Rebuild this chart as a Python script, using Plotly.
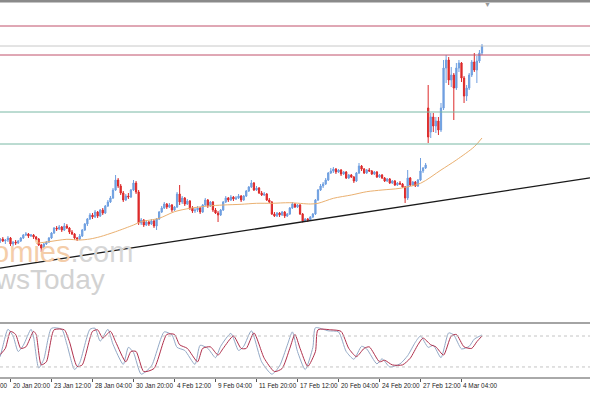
import plotly.graph_objects as go

# ---------------- data (price units) ----------------
open_ = [77,79,77,78,80,74,76,75,77,80,83,84,82,83,81,79,73,70,74,76,
         80,85,90,89,91,88,92,90,86,84,80,79,82,88,94,99,103,101,106,102,
         108,105,112,116,120,128,138,132,125,118,122,121,128,135,126,95,98,93,96,94,
         97,92,99,106,110,114,111,113,108,111,124,116,120,114,117,110,107,108,110,106,
         113,118,112,116,108,105,103,108,116,120,118,121,119,120,122,118,122,127,131,135,
         128,130,125,123,124,118,116,104,102,105,103,106,102,104,110,114,111,113,104,97,
         99,98,101,104,118,128,132,134,138,145,147,149,146,148,144,146,140,143,141,137,
         145,152,149,145,148,147,144,146,141,143,140,137,139,135,137,133,135,134,131,120,
         140,133,136,132,138,147,150,210,186,201,192,197,188,210,250,258,238,243,230,250,
         255,240,222,230,243,256,248,257,265]
high = [80,81,79,82,81,77,78,78,81,84,86,85,84,84,82,80,74,75,77,81,
        86,91,92,93,92,95,94,91,88,85,81,84,89,95,100,105,105,108,107,109,
        110,113,118,122,130,143,140,134,127,124,125,129,138,137,128,100,99,98,97,99,
        98,100,107,112,116,115,115,114,112,126,133,122,121,119,118,112,110,112,111,114,
        120,119,117,117,110,107,109,117,122,121,123,122,122,124,123,123,128,132,138,136,
        132,131,127,126,125,120,117,106,106,106,107,107,105,111,116,115,114,114,105,100,
        100,102,105,119,129,134,136,140,146,150,151,150,149,149,147,147,144,144,142,146,
        155,153,150,149,150,148,147,147,144,144,141,140,140,138,138,136,137,135,132,148,
        141,137,137,139,160,151,155,233,205,205,201,201,215,258,263,261,251,245,255,258,
        256,242,233,245,258,265,262,268,274]
low = [75,76,74,76,72,72,73,74,76,79,82,80,81,79,77,72,66,69,73,75,
       79,84,87,88,86,87,89,84,83,78,77,78,81,87,92,98,99,100,100,101,
       103,104,111,115,119,127,130,123,116,117,119,120,127,124,93,93,91,92,92,93,
       90,88,98,105,109,109,110,106,107,110,113,114,112,113,108,105,105,106,104,105,
       112,110,111,106,104,96,102,107,115,116,117,117,118,119,116,117,121,126,130,127,
       127,124,122,122,117,115,103,101,101,101,102,100,101,103,109,110,110,103,95.5,96,
       96,97,100,103,117,127,130,133,137,144,145,144,145,142,143,139,139,140,135,136,
       144,147,144,144,146,143,143,140,140,139,136,136,134,134,132,132,133,130,115,118,
       132,132,131,131,137,145,149,175,180,186,185,183,186,208,235,233,231,198,228,246,
       236,215,217,228,241,246,235,255,263]
close = [79,77,78,80,74,76,75,77,80,83,84,82,83,81,79,73,70,74,76,80,
         85,90,89,91,88,92,90,86,84,80,79,82,88,94,99,103,101,106,102,108,
         105,112,116,120,128,138,132,125,118,122,121,128,135,126,95,98,93,96,94,97,
         92,99,106,110,114,111,113,108,111,124,116,120,114,117,110,107,108,110,106,113,
         118,112,116,108,105,103,108,116,120,118,121,119,120,122,118,122,127,131,135,128,
         130,125,123,124,118,116,104,102,105,103,106,102,104,110,114,111,113,104,97,99,
         98,101,104,118,128,132,134,138,145,147,149,146,148,144,146,140,143,141,137,145,
         152,149,145,148,147,144,146,141,143,140,137,139,135,137,133,135,134,131,120,140,
         133,136,132,138,147,150,153,181,201,192,197,188,210,250,258,238,243,230,250,255,
         240,222,230,243,256,248,257,265,272]

# moving average (orange), read at sample bars
ma_idx = [14,19,26,31,35,39,45,52,55,62,68,74,81,87,94,100,106,113,121,124,130,137,143,149,156,164,172,178,185,188]
ma_val = [74.7,76.3,78.7,78,79,81.3,86.3,93,96.3,99.7,106.3,109.7,112,113,113.7,114.7,114.7,115.3,114,114.7,
          119.7,123,126.3,128,129.7,134.7,148,158,171.3,180]

# stochastic %D (red) and %K (grey-blue), read at sample bars
d_idx = [0,2,4,6,8,10,13,14,16,18,21,25,27,30,32,36,38,40,43,45,49,51,53,56,60,65,68,70,73,77,
         79,82,85,87,91,94,96,99,103,107,110,113,115,117,120,123,124,129,133,136,139,142,144,148,150,
         153,157,160,163,165,168,170,173,176,178,181,184,186,188]
d_val = [44,56,89,83,56,59,89,83,24,30,92,92,69,21,24,89,92,76,89,69,30,50,50,11,17,83,83,63,56,30,
         56,59,43,56,80,56,56,86,37,11,17,56,83,56,21,50,92,92,89,56,40,56,59,30,33,
         24,24,37,63,76,63,59,43,80,83,59,56,69,80]
k_idx = [0,1,3,5,7,9,12,13,15,17,20,24,26,29,31,35,37,39,42,44,48,50,52,55,59,64,67,69,72,76,
         78,81,84,86,90,93,95,98,102,106,109,112,114,116,119,122,123,128,132,135,138,141,143,147,149,
         152,156,159,162,164,167,169,172,175,177,180,183,185,188]
k_val = [40,60,93,80,50,62,93,78,18,35,95,93,64,15,28,93,95,70,93,64,25,58,48,6,22,88,82,58,52,25,
         62,56,38,60,85,52,60,90,30,6,22,62,88,50,15,58,96,90,88,50,35,60,55,26,36,
         20,26,42,68,80,58,62,38,86,82,55,60,74,82]

red_levels = [292, 263]
green_levels = [206, 174]
trend_idx = [0, 118]
trend_val = [50.0, 96.2]

tick_idx = [4, 20, 36, 52, 68, 84, 100, 116, 132, 148, 164, 180]
tick_txt = ["20 Jan 20:00", "23 Jan 12:00", "28 Jan 04:00", "30 Jan 20:00", "4 Feb 12:00",
            "9 Feb 04:00", "11 Feb 20:00", "17 Feb 12:00", "20 Feb 04:00", "24 Feb 20:00",
            "27 Feb 12:00", "4 Mar 04:00"]

# ---------------- figure ----------------
W, H = 590, 393
XMIN, XMAX = -0.1, 230.15
idx = list(range(len(close)))

fig = go.Figure()

BLUE = "#6f9fe0"
RED = "#dd2a2a"

fig.add_trace(go.Candlestick(
    x=idx, open=open_, high=high, low=low, close=close,
    increasing=dict(line=dict(color=BLUE, width=1), fillcolor=BLUE),
    decreasing=dict(line=dict(color=RED, width=1), fillcolor=RED),
    whiskerwidth=0, showlegend=False, hoverinfo="skip", xaxis="x", yaxis="y"))

fig.add_trace(go.Scatter(x=ma_idx, y=ma_val, mode="lines",
                         line=dict(color="#eab070", width=1, shape="spline", smoothing=0.8),
                         showlegend=False, hoverinfo="skip", xaxis="x", yaxis="y"))

# trendline extended through the visible range
slope = (trend_val[1] - trend_val[0]) / (trend_idx[1] - trend_idx[0])
tx = [XMIN, XMAX]
ty = [trend_val[0] + slope * (v - trend_idx[0]) for v in tx]
fig.add_trace(go.Scatter(x=tx, y=ty, mode="lines", line=dict(color="#1a1a1a", width=1.3),
                         showlegend=False, hoverinfo="skip", xaxis="x", yaxis="y"))

# horizontal levels
for lv in red_levels:
    fig.add_hline(y=lv, line=dict(color="#c0506a", width=1), xref="x", yref="y")
for lv in green_levels:
    fig.add_hline(y=lv, line=dict(color="#78b8a4", width=1), xref="x", yref="y")
fig.add_hline(y=close[-1], line=dict(color="#c8c8c8", width=1), xref="x", yref="y")

# stochastic
fig.add_trace(go.Scatter(x=k_idx, y=k_val, mode="lines",
                         line=dict(color="#93a9c6", width=1, shape="spline", smoothing=0.6),
                         showlegend=False, hoverinfo="skip", xaxis="x2", yaxis="y2"))
fig.add_trace(go.Scatter(x=d_idx, y=d_val, mode="lines",
                         line=dict(color="#b0304c", width=1, shape="spline", smoothing=0.6),
                         showlegend=False, hoverinfo="skip", xaxis="x2", yaxis="y2"))
for lv in (20, 80):
    fig.add_shape(type="line", xref="paper", x0=0, x1=1, yref="y2", y0=lv, y1=lv,
                  line=dict(color="#c4c4c4", width=1, dash="dot"))

main_dom = [(H - 320) / H, (H - 2) / H]
sto_dom = [(H - 378) / H, (H - 323) / H]

# borders
fig.add_shape(type="rect", xref="paper", yref="paper", x0=0, x1=1, y0=1 - 2.5 / H, y1=1,
              line=dict(width=0), fillcolor="#8a8a8a")
fig.add_shape(type="line", xref="paper", yref="paper", x0=0, x1=1, y0=sto_dom[1], y1=sto_dom[1],
              line=dict(color="#4a4a4a", width=1.2))
fig.add_shape(type="line", xref="paper", yref="paper", x0=0, x1=1, y0=sto_dom[0], y1=sto_dom[0],
              line=dict(color="#555555", width=1))

# tick labels (left-aligned like the terminal)
LBL_FONT = dict(family="Liberation Sans, Arial, sans-serif", size=6.4, color="#222222")
annos = []
for ti, tt in zip(tick_idx, tick_txt):
    annos.append(dict(x=ti, xref="x2", y=(H - 385) / H, yref="paper", text=tt, showarrow=False,
                      xanchor="left", yanchor="middle", xshift=0, font=LBL_FONT))
annos.append(dict(x=0, xref="paper", y=(H - 385) / H, yref="paper", text="00", showarrow=False,
                  xanchor="left", yanchor="middle", xshift=-2, font=LBL_FONT))
# watermark
annos.append(dict(x=135 / W, xref="paper", y=(H - 252) / H, yref="paper",
                  text="<span style='color:#f4cda9'>Economies</span><span style='color:#d6d6d6'>.com</span>",
                  showarrow=False, xanchor="right", yanchor="middle",
                  font=dict(family="Liberation Sans, Arial, sans-serif", size=29)))
annos.append(dict(x=107 / W, xref="paper", y=(H - 279) / H, yref="paper",
                  text="NewsToday", showarrow=False, xanchor="right", yanchor="middle",
                  font=dict(family="Liberation Sans, Arial, sans-serif", size=28, color="#d2d2d2")))
# chart-shift marker
annos.append(dict(x=(len(close) + 1), xref="x", y=(H - 5) / H, yref="paper", text="▼", showarrow=False,
                  xanchor="center", yanchor="middle", font=dict(size=7, color="#9a9a9a")))

fig.update_layout(
    width=W, height=H, margin=dict(l=0, r=0, t=0, b=0),
    paper_bgcolor="white", plot_bgcolor="white",
    xaxis=dict(domain=[0, 1], range=[XMIN, XMAX], anchor="y", showticklabels=False, showgrid=False,
               zeroline=False, rangeslider=dict(visible=False), ticks=""),
    yaxis=dict(domain=main_dom, range=[-2, 316], showticklabels=False, showgrid=False, zeroline=False,
               ticks=""),
    xaxis2=dict(domain=[0, 1], range=[XMIN, XMAX], anchor="y2", showticklabels=False, showgrid=False,
                zeroline=False, ticks="outside", ticklen=3, tickcolor="#555555", tickwidth=1,
                tickvals=tick_idx),
    yaxis2=dict(domain=sto_dom, range=[-1.4, 105.2], showticklabels=False, showgrid=False,
                zeroline=False, ticks=""),
    annotations=annos,
    hovermode=False,
)

fig.write_html("out.html")
